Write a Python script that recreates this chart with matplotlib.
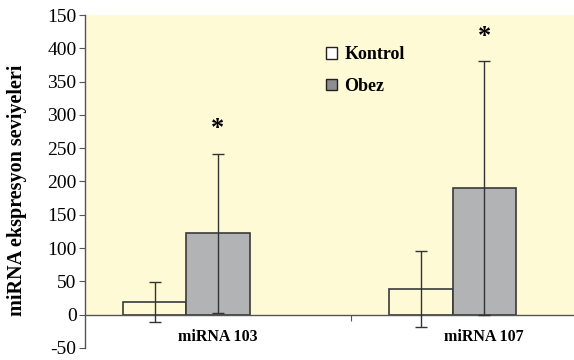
import matplotlib
matplotlib.use("Agg")
import matplotlib.pyplot as plt
from matplotlib.patches import Patch

categories = ["miRNA 103", "miRNA 107"]
kontrol = [19, 38]
kontrol_err = [30, 57]
obez = [122, 190]
obez_err = [120, 191]
stars_y = [280, 418]
yticks = [-50, 0, 50, 100, 150, 200, 250, 300, 350, 400, 450]
ytick_labels = ["-50", "0", "50", "100", "150", "200", "250", "300", "350", "400", "150"]

plt.rcParams["font.family"] = ["Liberation Serif", "DejaVu Serif"]

fig = plt.figure(figsize=(5.74, 3.6), dpi=100)
ax = fig.add_axes([85 / 574, 12 / 360, 489 / 574, 333 / 360])

ax.set_xlim(-0.5, 1.338)
ax.set_ylim(-50, 450)
ax.set_facecolor("white")
ax.axhspan(0, 450, color="#fffad6", zorder=0, lw=0)

w = 0.237
x = list(range(len(categories)))
xk = [i - w for i in x]

ax.bar(xk, kontrol, width=w, facecolor="none", edgecolor="#3a3a3a", lw=1.2, zorder=2)
ax.bar(x, obez, width=w, facecolor="#b1b3b5", edgecolor="#3a3a3a", lw=1.2, zorder=2)
ax.errorbar(xk, kontrol, yerr=kontrol_err, fmt="none", ecolor="#333333",
            elinewidth=1, capsize=4, capthick=1, zorder=3)
ax.errorbar(x, obez, yerr=obez_err, fmt="none", ecolor="#333333",
            elinewidth=1, capsize=4, capthick=1, zorder=3)

for i, sy in zip(x, stars_y):
    ax.text(i, sy, "*", ha="center", va="center", fontsize=19, fontweight="bold")

# axes / spines
for s in ["top", "right"]:
    ax.spines[s].set_visible(False)
ax.spines["bottom"].set_position(("data", 0))
ax.spines["bottom"].set_color("#555555")
ax.spines["left"].set_color("#555555")
ax.spines["bottom"].set_linewidth(1)
ax.spines["left"].set_linewidth(1)

ax.set_yticks(yticks)
ax.set_yticklabels(ytick_labels, fontsize=14)
ax.tick_params(axis="y", direction="out", length=4, color="#555555", pad=2)

ax.set_xticks([0.5])
ax.set_xticklabels([""])
ax.tick_params(axis="x", which="major", length=4, color="#555555", direction="out")
ax.set_xticks(x, minor=True)
ax.set_xticklabels(categories, minor=True, fontsize=11.5, fontweight="bold")
ax.tick_params(axis="x", which="minor", length=0, pad=10)

ax.set_ylabel("miRNA ekspresyon seviyeleri", fontsize=14.5, fontweight="bold")
ax.yaxis.set_label_coords(-0.118, 0.475)

handles = [Patch(facecolor="white", edgecolor="#222222", lw=1),
           Patch(facecolor="#8e8e90", edgecolor="#222222", lw=1)]
ax.legend(handles, ["Kontrol", "Obez"], loc="upper left", bbox_to_anchor=(0.46, 0.955),
          frameon=False, prop={"weight": "bold", "size": 13},
          handlelength=0.6, handleheight=0.6, handletextpad=0.4, labelspacing=0.8)

fig.savefig("out.png", dpi=100)
